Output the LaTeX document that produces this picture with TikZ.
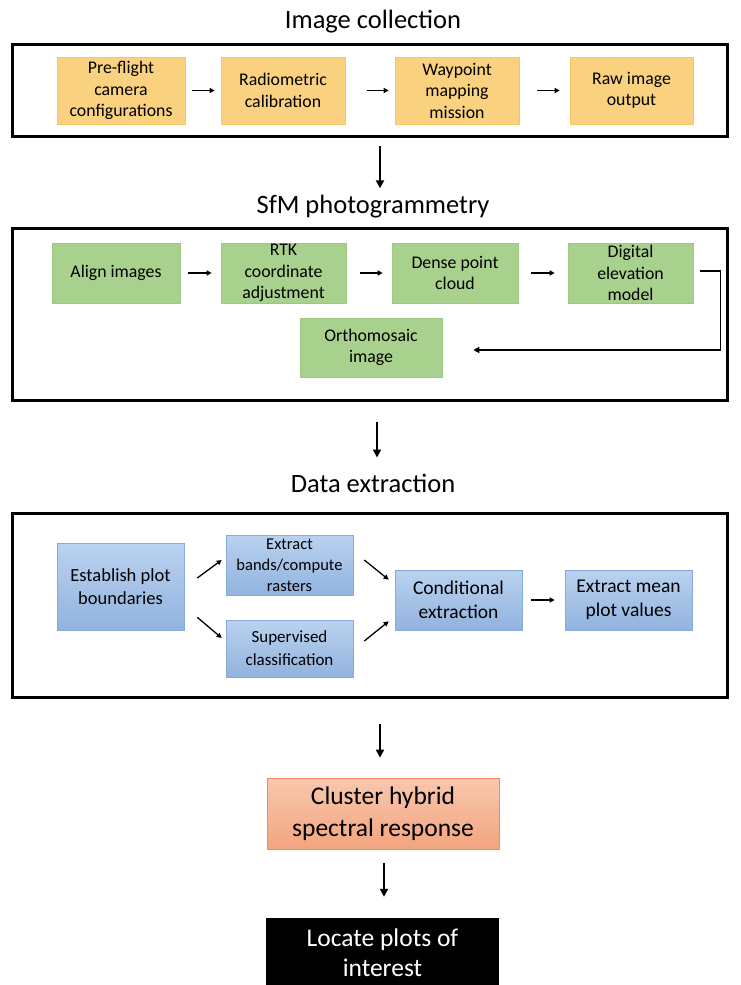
\documentclass[tikz,border=0pt]{standalone}
\usepackage{fontspec}
\setmainfont{Carlito}
\usetikzlibrary{arrows.meta,positioning}
\definecolor{orfill}{HTML}{F9D17F}
\definecolor{ordraw}{HTML}{F5C668}
\definecolor{grfill}{HTML}{A9D18E}
\definecolor{grdraw}{HTML}{9CC87F}
\definecolor{bltop}{HTML}{B9D2EF}
\definecolor{blbot}{HTML}{92B3DE}
\definecolor{bldraw}{HTML}{86AADB}
\definecolor{cltop}{HTML}{F8C8AE}
\definecolor{clbot}{HTML}{F3A47F}
\definecolor{cldraw}{HTML}{EE8C5C}
\tikzset{
  frame/.style={draw=black, line width=3pt, minimum width=715pt, inner sep=0pt},
  title/.style={font=\fontsize{26.5}{31}\selectfont, inner sep=2pt},
  obox/.style={fill=orfill, draw=ordraw, line width=0.6pt, minimum height=67pt, align=center, inner sep=0pt, font=\fontsize{17.8}{21.5}\selectfont},
  gbox/.style={fill=grfill, draw=grdraw, line width=0.6pt, minimum height=60pt, align=center, inner sep=0pt, font=\fontsize{17.8}{21.5}\selectfont},
  bbox/.style={top color=bltop, bottom color=blbot, draw=bldraw, line width=0.6pt, minimum width=127pt, align=center, inner sep=0pt},
  sarrow/.style={-{Triangle[length=5pt,width=5pt]}, line width=1.3pt, black},
  darrow/.style={-{Triangle[length=8pt,width=8pt]}, line width=2pt, black},
}
\begin{document}
\begin{tikzpicture}[x=1pt,y=-1pt]
\useasboundingbox (0,0) rectangle (740,985);

% ---------- Image collection ----------
\node[title] (t1) at (373,22) {Image collection};
\node[frame, minimum height=92pt] (f1) at (370,90.5) {};
\node[obox, minimum width=128pt] (o1) at (121,90.5) {Pre-flight\\camera\\configurations};
\node[obox, minimum width=124pt] (o2) at (283,90.5) {Radiometric\\calibration};
\node[obox, minimum width=124pt] (o3) at (457,90.5) {Waypoint\\mapping\\mission};
\node[obox, minimum width=123pt] (o4) at (631.5,90.5) {Raw image\\output};
\draw[sarrow, shorten <=7pt, shorten >=6pt] (o1) -- (o2);
\draw[sarrow, shorten <=22pt, shorten >=6pt] (o2) -- (o3);
\draw[sarrow, shorten <=18pt, shorten >=10pt] (o3) -- (o4);

% ---------- SfM photogrammetry ----------
\node[title] (t2) at (373,207) {SfM photogrammetry};
\draw[darrow, shorten <=8pt, shorten >=5pt] ([xshift=10pt]f1.south) -- ([xshift=10pt]f1.south |- t2.north);
\node[frame, minimum height=172pt] (f2) at (370,314) {};
\node[gbox, minimum width=128pt] (g1) at (116,273) {Align images};
\node[gbox, minimum width=125pt] (g2) at (283.5,273) {RTK\\coordinate\\adjustment};
\node[gbox, minimum width=126pt] (g3) at (455,273) {Dense point\\cloud};
\node[gbox, minimum width=125pt] (g4) at (630.5,273) {Digital\\elevation\\model};
\node[gbox, minimum width=142pt, minimum height=59pt] (g5) at (371,347.5) {Orthomosaic\\image};
\draw[sarrow, shorten <=8pt, shorten >=9pt] (g1) -- (g2);
\draw[sarrow, shorten <=14pt, shorten >=9pt] (g2) -- (g3);
\draw[sarrow, shorten <=13pt, shorten >=13pt] (g3) -- (g4);
\draw[-{Triangle[length=6pt,width=6pt]}, line width=1.3pt] ([xshift=7pt,yshift=2pt]g4.east) -- ++(20,0) |- ([xshift=31pt,yshift=-2.5pt]g5.east);

% ---------- Data extraction ----------
\node[title] (t3) at (373,483) {Data extraction};
\draw[darrow, shorten <=20pt, shorten >=14pt] ([xshift=7pt]f2.south) -- ([xshift=7pt]f2.south |- t3.north);
\node[frame, minimum height=184pt] (f3) at (370,605) {};
\node[bbox, minimum height=87pt, font=\fontsize{18.5}{23}\selectfont] (b1) at (120.5,586.5) {Establish plot\\boundaries};
\node[bbox, minimum height=60pt, font=\fontsize{16.5}{21}\selectfont] (b2) at (289.5,565) {Extract\\bands/compute\\rasters};
\node[bbox, minimum height=57pt, font=\fontsize{17}{23}\selectfont] (b3) at (289.5,648.5) {Supervised\\classification};
\node[bbox, minimum height=60pt, font=\fontsize{19.5}{24}\selectfont] (b4) at (458.5,600) {Conditional\\extraction};
\node[bbox, minimum height=60pt, font=\fontsize{19.5}{24}\selectfont] (b5) at (628.5,600) {Extract mean\\plot values};
\draw[sarrow] ([xshift=13pt,yshift=8.5pt]b1.east) -- ([xshift=-4pt,yshift=5pt]b2.west);
\draw[sarrow] ([xshift=13pt,yshift=13pt]b1.south east) -- ([xshift=-4pt,yshift=10.5pt]b3.west);
\draw[sarrow] ([xshift=11pt,yshift=5pt]b2.east) -- ([xshift=-6pt,yshift=-10pt]b4.north west);
\draw[sarrow] ([xshift=11pt,yshift=7.5pt]b3.east) -- ([xshift=-6pt,yshift=9pt]b4.south west);
\draw[sarrow, shorten <=9pt, shorten >=10pt] (b4) -- (b5);

% ---------- Cluster / Locate ----------
\node[top color=cltop, bottom color=clbot, draw=cldraw, line width=0.8pt, minimum width=232pt, minimum height=71pt, align=center, inner sep=0pt, font=\fontsize{25.5}{32}\selectfont] (c1) at (383,813.5) {Cluster hybrid\\spectral response};
\draw[darrow, shorten <=25pt, shorten >=20pt] ([xshift=10pt]f3.south) -- ([xshift=10pt]f3.south |- c1.north);
\node[fill=black, minimum width=233pt, minimum height=74pt, inner sep=0pt] (k1) at (382.5,955) {};
\node[text=white, align=center, inner sep=0pt, font=\fontsize{25.5}{30}\selectfont] (k1t) at (382.5,953) {Locate plots of\\interest};
\draw[darrow, shorten <=14pt, shorten >=21pt] ([xshift=1pt]c1.south) -- ([xshift=1pt]c1.south |- k1.north);
\end{tikzpicture}
\end{document}
